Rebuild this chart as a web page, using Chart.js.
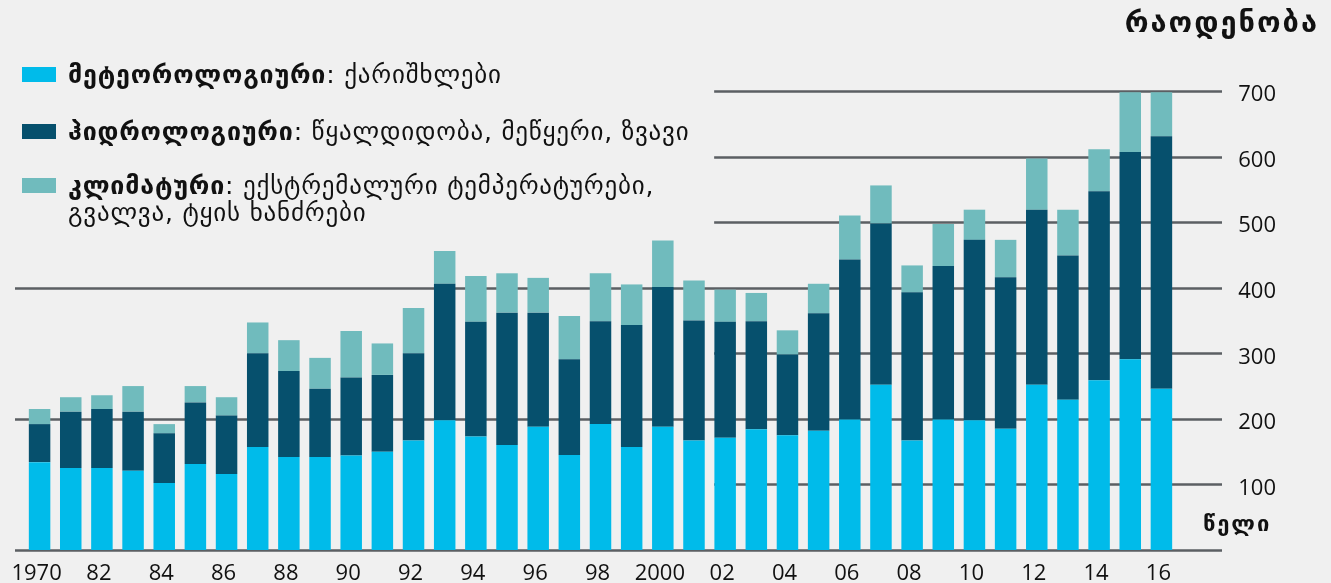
<!DOCTYPE html>
<html>
<head>
<meta charset="utf-8">
<script src="https://cdn.jsdelivr.net/npm/chart.js@4"></script>
<style>
  html, body { margin: 0; padding: 0; background: #f0f0f0; }
  #wrap { position: relative; width: 1331px; height: 583px; }
  canvas { position: absolute; left: 0; top: 0; }
  .geo { position: absolute; font-family: "DejaVu Sans", sans-serif; color: #111; white-space: nowrap; }
  .legend .row { position: absolute; left: 22px; width: 720px; font-size: 25px; line-height: 27px; letter-spacing: 0.8px; }
  .legend .sw { position: absolute; left: 0; top: 6px; width: 34px; height: 15px; }
  .legend .txt { position: absolute; left: 46px; top: 0; }
  .legend b { font-weight: bold; }
</style>
</head>
<body>
<div id="wrap">
  <canvas id="disasterChart" width="1331" height="583"></canvas>
  <div class="geo" style="right:12px; top:5px; font-size:29px; font-weight:bold; letter-spacing:2px;">რაოდენობა</div>
  <div class="geo" style="left:1203px; top:511px; font-size:22px; font-weight:bold; letter-spacing:2px;">წელი</div>
  <div class="legend" id="legend"></div>
</div>
<script>
// years 1980-2016, one stacked bar each
const years = ['1980', '1981', '1982', '1983', '1984', '1985', '1986', '1987', '1988', '1989',
  '1990', '1991', '1992', '1993', '1994', '1995', '1996', '1997', '1998', '1999',
  '2000', '2001', '2002', '2003', '2004', '2005', '2006', '2007', '2008', '2009',
  '2010', '2011', '2012', '2013', '2014', '2015', '2016'];
const xTickLabels = ['1970', '', '82', '', '84', '', '86', '', '88', '', '90', '', '92', '', '94', '', '96', '', '98', '',
  '2000', '', '02', '', '04', '', '06', '', '08', '', '10', '', '12', '', '14', '', '16'];
const yTickLabels = [100, 200, 300, 400, 500, 600, 700];

const meteorological = [134, 125, 125, 121, 102, 131, 116, 157, 142, 142,
  144, 150, 167, 198, 173, 160, 188, 145, 192, 157,
  188, 167, 171, 184, 175, 182, 199, 252, 167, 199,
  198, 185, 252, 229, 259, 291, 246];
const hydrological = [58, 86, 90, 90, 76, 94, 89, 143, 131, 104,
  119, 117, 133, 208, 175, 202, 174, 146, 157, 186,
  213, 183, 177, 165, 123, 179, 244, 246, 226, 234,
  275, 231, 267, 220, 288, 316, 385];
const climatological = [23, 22, 21, 39, 14, 25, 28, 47, 47, 47,
  71, 48, 69, 50, 70, 60, 53, 66, 73, 62,
  71, 61, 49, 43, 37, 45, 67, 58, 41, 64,
  46, 57, 78, 70, 64, 91, 67];

const seriesNames = [
  ['მეტეოროლოგიური', 'ქარიშხლები'],
  ['ჰიდროლოგიური', 'წყალდიდობა, მეწყერი, ზვავი'],
  ['კლიმატური', 'ექსტრემალური ტემპერატურები,', 'გვალვა, ტყის ხანძრები']
];
const colors = ['#00bbea', '#06506d', '#70bbbd'];

// legend rows, drawn as html so the name can be bold and the rest regular
const legendTops = [61, 118, 172];
const legendEl = document.getElementById('legend');
seriesNames.forEach((n, i) => {
  const row = document.createElement('div');
  row.className = 'row geo';
  row.style.top = legendTops[i] + 'px';
  let html = '<div class="sw" style="background:' + colors[i] + '"></div>';
  html += '<div class="txt"><b>' + n[0] + '</b>: ' + n[1];
  if (n[2]) html += '<br>' + n[2];
  html += '</div>';
  row.innerHTML = html;
  legendEl.appendChild(row);
});

// horizontal rules: 0/200/400 run the full width, the rest start mid-chart
const gridRules = {
  id: 'gridRules',
  beforeDatasetsDraw(chart) {
    const { ctx, chartArea, scales } = chart;
    const fullLeft = chartArea.left - 9;
    const partLeft = scales.x.getPixelForValue(22) - 11;
    const right = chartArea.right + 45;
    ctx.save();
    ctx.strokeStyle = '#5b5f63';
    ctx.lineWidth = 2.5;
    [0].concat(yTickLabels).forEach(v => {
      const y = Math.round(scales.y.getPixelForValue(v)) + 0.5;
      const left = (v === 0 || v === 200 || v === 400) ? fullLeft : partLeft;
      ctx.beginPath();
      ctx.moveTo(left, y);
      ctx.lineTo(right, y);
      ctx.stroke();
    });
    ctx.restore();
  }
};

const ctx = document.getElementById('disasterChart').getContext('2d');
new Chart(ctx, {
  type: 'bar',
  data: {
    labels: years,
    datasets: [
      { label: seriesNames[0][0], data: meteorological, backgroundColor: colors[0] },
      { label: seriesNames[1][0], data: hydrological, backgroundColor: colors[1] },
      { label: seriesNames[2][0], data: climatological, backgroundColor: colors[2] }
    ]
  },
  options: {
    responsive: false,
    animation: false,
    layout: { padding: { left: 24, top: 91, right: 55, bottom: 0 } },
    datasets: { bar: { barPercentage: 0.69, categoryPercentage: 1 } },
    plugins: { legend: { display: false }, tooltip: { enabled: false } },
    scales: {
      x: {
        stacked: true,
        grid: { display: false },
        border: { display: false },
        afterFit: s => { s.height = 33; },
        ticks: {
          autoSkip: false,
          maxRotation: 0,
          padding: 3,
          labelOffset: -3,
          color: '#111',
          font: { family: 'Open Sans', size: 22 },
          callback: (v, i) => xTickLabels[i]
        }
      },
      y: {
        stacked: true,
        position: 'right',
        min: 0,
        max: 700,
        grid: { display: false, drawTicks: false },
        border: { display: false },
        afterFit: s => { s.width = 99; },
        ticks: {
          stepSize: 100,
          padding: 4,
          labelOffset: 4,
          crossAlign: 'far',
          color: '#111',
          font: { family: 'Open Sans', size: 22 },
          callback: v => yTickLabels.includes(v) ? String(v) : ''
        }
      }
    }
  },
  plugins: [gridRules]
});
</script>
</body>
</html>
